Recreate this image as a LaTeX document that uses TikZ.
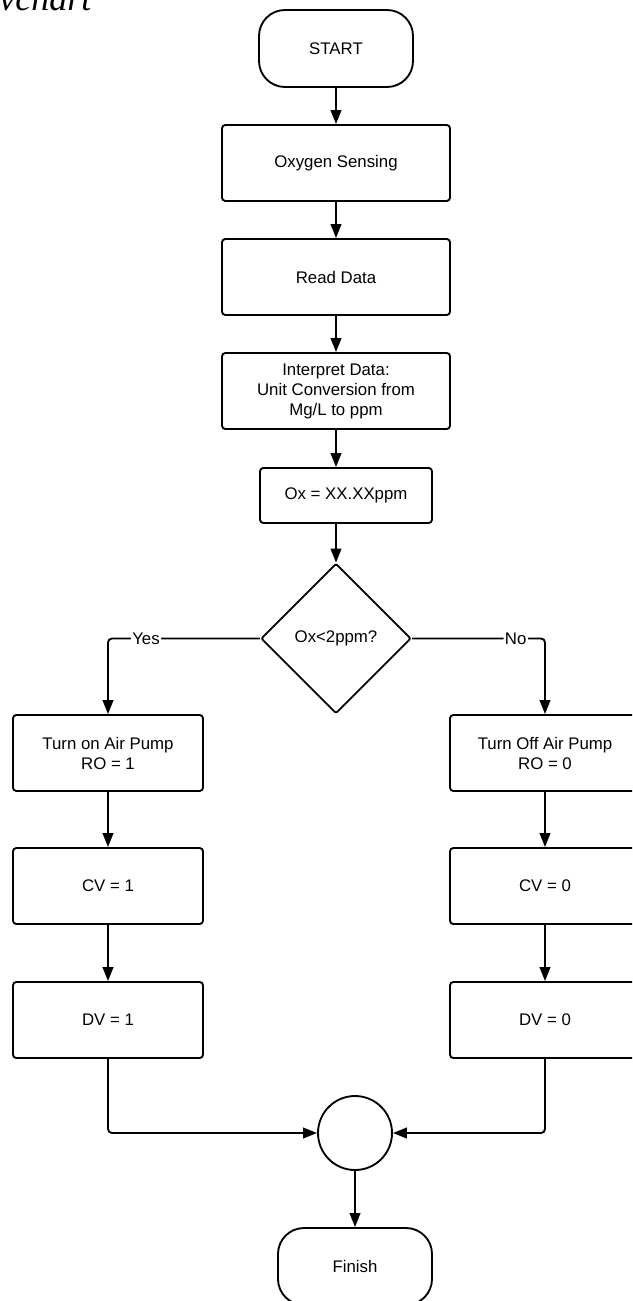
\documentclass[tikz,border=0pt]{standalone}
\usepackage{fontspec}
\setmainfont{Liberation Sans}
\newfontfamily\captionserif{Liberation Serif}
\usetikzlibrary{shapes.geometric,arrows.meta}

\newcommand{\flowfont}{\fontsize{12.6pt}{15pt}\selectfont}

\tikzset{every picture/.style={line width=0.75pt}}
\tikzset{
  process/.style={draw, rounded corners=2.5pt, line width=1.4pt, align=center, inner sep=0.75pt, font=\flowfont, minimum height=57pt},
  terminal/.style={draw, rounded corners=19.5pt, line width=1.4pt, align=center, inner sep=0.75pt, font=\flowfont, minimum width=115.5pt, minimum height=57.75pt},
  decision/.style={draw, diamond, rounded corners=1.5pt, line width=1.4pt, align=center, inner sep=0pt, font=\flowfont, minimum width=112.5pt, minimum height=112.5pt},
  junction/.style={draw, circle, line width=1.4pt, minimum size=55.5pt, inner sep=0pt},
  flowline/.style={line width=1.4pt, -{Triangle[length=10.5pt,width=8pt]}},
  branchlabel/.style={fill=white, inner sep=1pt, font=\flowfont}
}

\begin{document}
\begin{tikzpicture}[x=0.75pt,y=0.75pt,yscale=-1,xscale=1]
%set diagram left start at 0, and has height of 1301
\useasboundingbox (0,0) rectangle (632,1301);
\clip (0,0) rectangle (632,1301);

% Text Node
\node [anchor=base west, inner sep=0pt, font=\captionserif\itshape\fontsize{27pt}{27pt}\selectfont] (caption) at (-1,10.5) {vchart};

%Flowchart: Terminator
\node [terminal] (start) at (336,48.5) {START};
%Flowchart: Process
\node [process, minimum width=171pt] (sense) at (336,163) {Oxygen Sensing};
%Flowchart: Process
\node [process, minimum width=171pt] (read) at (336,277) {Read Data};
%Flowchart: Process
\node [process, minimum width=171pt] (interp) at (336,391) {Interpret Data:\\Unit Conversion from\\Mg/L to ppm};
%Flowchart: Process
\node [process, minimum width=129pt, minimum height=41.25pt] (ox) at (346,495.5) {Ox = XX.XXppm};
%Flowchart: Decision
\node [decision] (dec) at (336,638.5) {Ox<2ppm?};

%Flowchart: Process (left branch)
\node [process, minimum width=142.5pt] (onL) at (108,753) {Turn on Air Pump\\RO = 1};
\node [process, minimum width=142.5pt] (cvL) at (108,886) {CV = 1};
\node [process, minimum width=142.5pt] (dvL) at (108,1020) {DV = 1};
%Flowchart: Process (right branch)
\node [process, minimum width=142.5pt] (offR) at (545,753) {Turn Off Air Pump\\RO = 0};
\node [process, minimum width=142.5pt] (cvR) at (545,886) {CV = 0};
\node [process, minimum width=142.5pt] (dvR) at (545,1020) {DV = 0};

%Flowchart: Connector
\node [junction] (merge) at (355,1133) {};
%Flowchart: Terminator
\node [terminal] (finish) at (355,1266.5) {Finish};

%Straight Lines
\draw [flowline] (start) -- (sense);
\draw [flowline] (sense) -- (read);
\draw [flowline] (read) -- (interp);
\draw [flowline] (interp.south) -- (interp.south |- ox.north);
\draw [flowline] (ox.south -| dec.north) -- (dec.north);
%Elbow Lines
\draw [flowline, rounded corners=3pt] (dec.west) -| (onL.north) node [branchlabel, pos=0.375] (yes) {Yes};
\draw [flowline, rounded corners=3pt] (dec.east) -| (offR.north) node [branchlabel, pos=0.39] (no) {No};
\draw [flowline] (onL) -- (cvL);
\draw [flowline] (cvL) -- (dvL);
\draw [flowline] (offR) -- (cvR);
\draw [flowline] (cvR) -- (dvR);
\draw [flowline, rounded corners=3pt] (dvL.south) |- (merge.west);
\draw [flowline, rounded corners=3pt] (dvR.south) |- (merge.east);
\draw [flowline] (merge) -- (finish);

\end{tikzpicture}
\end{document}
